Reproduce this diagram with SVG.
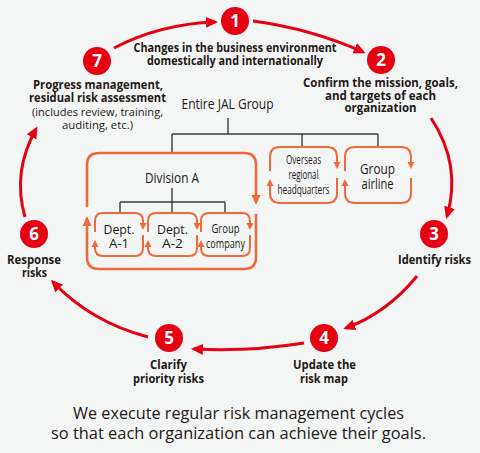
<svg xmlns="http://www.w3.org/2000/svg" width="480" height="453" viewBox="0 0 480 453">
<defs>
<style>
.bg{fill:#F4F6F6}
.cyc{fill:none;stroke:#E60012;stroke-width:3;stroke-linecap:butt}
.num{fill:#E60012}
.numt{fill:#fff;font-family:"Open Sans","Noto Sans",sans-serif;font-weight:700;font-size:17px;text-anchor:middle}
.lb{fill:#231815;font-family:"Open Sans","Noto Sans",sans-serif;font-weight:700;font-size:11.5px;text-anchor:middle}
.lr{fill:#231815;font-family:"Open Sans","Noto Sans",sans-serif;font-size:11.5px;text-anchor:middle}
.org{fill:#231815;font-family:"Open Sans","Noto Sans",sans-serif;text-anchor:middle}
.ol{fill:none;stroke:#3a3a3a;stroke-width:1.4}
.ob{fill:none;stroke:#EE6A3A;stroke-width:2.6}
.os{fill:none;stroke:#EE6A3A;stroke-width:2}
.foot{fill:#231815;font-family:"Open Sans","Noto Sans",sans-serif;font-size:17px;text-anchor:middle}
</style>
<marker id="ra" markerUnits="userSpaceOnUse" markerWidth="14" markerHeight="14" viewBox="0 -7 14 14" refX="9" refY="0" orient="auto"><path d="M0,-5.5 L12,0 L0,5.5 z" fill="#E60012"/></marker>
<marker id="ob" markerUnits="userSpaceOnUse" markerWidth="12" markerHeight="12" viewBox="0 -6 12 12" refX="0" refY="0" orient="auto"><path d="M0,-4.5 L10,0 L0,4.5 z" fill="#EE6A3A"/></marker>
<marker id="os" markerUnits="userSpaceOnUse" markerWidth="9" markerHeight="9" viewBox="0 -4.5 9 9" refX="0" refY="0" orient="auto"><path d="M0,-3.5 L7,0 L0,3.5 z" fill="#EE6A3A"/></marker>
</defs>
<rect class="bg" x="0" y="0" width="480" height="453"/>

<g id="connectors">
<path class="cyc" marker-end="url(#ra)" d="M114,48 Q160,24 215,22"/>
<path class="cyc" marker-end="url(#ra)" d="M253,21 Q312,29 363,52"/>
<path class="cyc" marker-end="url(#ra)" d="M431,118 Q462,165 447,216"/>
<path class="cyc" marker-end="url(#ra)" d="M417,276 Q387,313 346,328"/>
<path class="cyc" marker-end="url(#ra)" d="M304,343 Q248,352 194,349"/>
<path class="cyc" marker-end="url(#ra)" d="M148,337 Q91,322 53,282"/>
<path class="cyc" marker-end="url(#ra)" d="M25,217 Q12,172 36,129"/>
</g>

<g id="step1"><circle class="num" cx="235" cy="21" r="14"/><text class="numt" x="235" y="27">1</text>
<text class="lb" x="235" y="52" textLength="203" lengthAdjust="spacingAndGlyphs">Changes in the business environment</text>
<text class="lb" x="235" y="65" textLength="176" lengthAdjust="spacingAndGlyphs">domestically and internationally</text></g>

<g id="step2"><circle class="num" cx="381" cy="60" r="14"/><text class="numt" x="381" y="66">2</text>
<text class="lb" x="380.5" y="87" textLength="155" lengthAdjust="spacingAndGlyphs">Confirm the mission, goals,</text>
<text class="lb" x="380.5" y="100" textLength="111" lengthAdjust="spacingAndGlyphs">and targets of each</text>
<text class="lb" x="380.5" y="112" textLength="72" lengthAdjust="spacingAndGlyphs">organization</text></g>

<g id="step3"><circle class="num" cx="434" cy="234" r="14"/><text class="numt" x="434" y="240">3</text>
<text class="lb" x="434.5" y="264" textLength="73" lengthAdjust="spacingAndGlyphs">Identify risks</text></g>

<g id="step4"><circle class="num" cx="324" cy="338" r="14"/><text class="numt" x="324" y="344">4</text>
<text class="lb" x="324.5" y="369" textLength="63" lengthAdjust="spacingAndGlyphs">Update the</text>
<text class="lb" x="324" y="383" textLength="48" lengthAdjust="spacingAndGlyphs">risk map</text></g>

<g id="step5"><circle class="num" cx="169" cy="338" r="14"/><text class="numt" x="169" y="344">5</text>
<text class="lb" x="168.5" y="369" textLength="37" lengthAdjust="spacingAndGlyphs">Clarify</text>
<text class="lb" x="168.5" y="383" textLength="71" lengthAdjust="spacingAndGlyphs">priority risks</text></g>

<g id="step6"><circle class="num" cx="34" cy="234" r="14"/><text class="numt" x="34" y="240">6</text>
<text class="lb" x="34" y="264" textLength="54" lengthAdjust="spacingAndGlyphs">Response</text>
<text class="lb" x="34.5" y="277" textLength="25" lengthAdjust="spacingAndGlyphs">risks</text></g>

<g id="step7"><circle class="num" cx="97" cy="61" r="14"/><text class="numt" x="97" y="67">7</text>
<text class="lb" x="98" y="89" textLength="130" lengthAdjust="spacingAndGlyphs">Progress management,</text>
<text class="lb" x="97.5" y="102" textLength="137" lengthAdjust="spacingAndGlyphs">residual risk assessment</text>
<text class="lr" x="97.5" y="116" textLength="131" lengthAdjust="spacingAndGlyphs">(includes review, training,</text>
<text class="lr" x="97.5" y="129" textLength="71" lengthAdjust="spacingAndGlyphs">auditing, etc.)</text></g>

<g id="org-lines">
<path class="ol" d="M228,118 V134 M172,134 H378 M172,134 V153 M302,134 V147 M378,134 V147"/>
<path class="ol" d="M172,188 V202 M120,202 H225 M120,202 V213 M172,202 V213 M225,202 V213"/>
</g>

<g id="entire-jal"><text class="org" x="227.5" y="109" font-size="14.5" textLength="92" lengthAdjust="spacingAndGlyphs">Entire JAL Group</text></g>

<g id="division-a">
<path class="ob" marker-end="url(#ob)" d="M87,207 V165 Q87,153 99,153 H244 Q256,153 256,165 V195"/>
<path class="ob" marker-end="url(#ob)" d="M256,214 V257 Q256,269 244,269 H99 Q87,269 87,257 V226"/>
<text class="org" x="172" y="183" font-size="15" textLength="54" lengthAdjust="spacingAndGlyphs">Division A</text>
</g>

<g id="dept-a1">
<path class="os" marker-end="url(#os)" d="M95,232 V221 Q95,213 103,213 H135 Q143,213 143,221 V223"/>
<path class="os" marker-end="url(#os)" d="M143,235 V248 Q143,256 135,256 H103 Q95,256 95,248 V247"/>
<text class="org" x="119" y="233.5" font-size="13.5" textLength="31" lengthAdjust="spacingAndGlyphs">Dept.</text>
<text class="org" x="119" y="248" font-size="13.5" textLength="20" lengthAdjust="spacingAndGlyphs">A-1</text>
</g>

<g id="dept-a2">
<path class="os" marker-end="url(#os)" d="M148,232 V221 Q148,213 156,213 H189 Q197,213 197,221 V223"/>
<path class="os" marker-end="url(#os)" d="M197,235 V248 Q197,256 189,256 H156 Q148,256 148,248 V247"/>
<text class="org" x="172.5" y="233.5" font-size="13.5" textLength="31" lengthAdjust="spacingAndGlyphs">Dept.</text>
<text class="org" x="172.5" y="248" font-size="13.5" textLength="21" lengthAdjust="spacingAndGlyphs">A-2</text>
</g>

<g id="group-company">
<path class="os" marker-end="url(#os)" d="M201,232 V221 Q201,213 209,213 H242 Q250,213 250,221 V223"/>
<path class="os" marker-end="url(#os)" d="M250,235 V248 Q250,256 242,256 H209 Q201,256 201,248 V247"/>
<text class="org" x="225.5" y="232.5" font-size="12" textLength="28" lengthAdjust="spacingAndGlyphs">Group</text>
<text class="org" x="225.5" y="247.5" font-size="12" textLength="39" lengthAdjust="spacingAndGlyphs">company</text>
</g>

<g id="overseas">
<path class="os" marker-end="url(#os)" d="M270,171 V157 Q270,147 280,147 H327 Q337,147 337,157 V162"/>
<path class="os" marker-end="url(#os)" d="M337,178 V193 Q337,203 327,203 H280 Q270,203 270,193 V186"/>
<text class="org" x="303.5" y="164" font-size="12" textLength="35" lengthAdjust="spacingAndGlyphs">Overseas</text>
<text class="org" x="303.5" y="179" font-size="12" textLength="30" lengthAdjust="spacingAndGlyphs">regional</text>
<text class="org" x="303.5" y="194" font-size="12" textLength="52" lengthAdjust="spacingAndGlyphs">headquarters</text>
</g>

<g id="group-airline">
<path class="os" marker-end="url(#os)" d="M345,171 V157 Q345,147 355,147 H401 Q411,147 411,157 V162"/>
<path class="os" marker-end="url(#os)" d="M411,178 V193 Q411,203 401,203 H355 Q345,203 345,193 V186"/>
<text class="org" x="377.5" y="174" font-size="14" textLength="35" lengthAdjust="spacingAndGlyphs">Group</text>
<text class="org" x="377.5" y="188.5" font-size="14" textLength="32" lengthAdjust="spacingAndGlyphs">airline</text>
</g>

<g id="footer">
<text class="foot" x="238.5" y="419" textLength="331" lengthAdjust="spacingAndGlyphs">We execute regular risk management cycles</text>
<text class="foot" x="238.5" y="439" textLength="375" lengthAdjust="spacingAndGlyphs">so that each organization can achieve their goals.</text>
</g>
</svg>
